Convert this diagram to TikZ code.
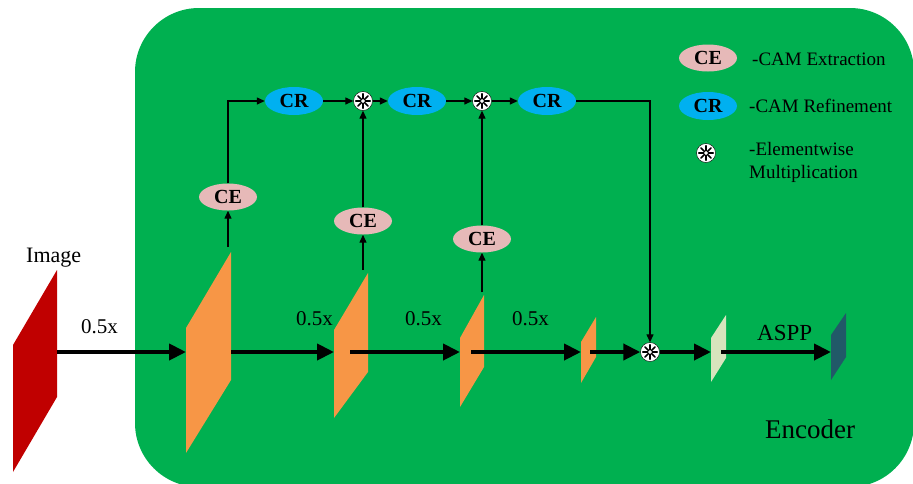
\documentclass[tikz,border=0pt]{standalone}
\usepackage{fontspec}
\setmainfont{Liberation Serif}
\usetikzlibrary{arrows.meta,shapes.geometric}
\definecolor{panel}{HTML}{00B050}
\definecolor{cepink}{HTML}{E6B9B8}
\definecolor{crblue}{HTML}{00B0F0}
\definecolor{imgred}{HTML}{C00000}
\definecolor{featorange}{HTML}{F79646}
\definecolor{featlight}{HTML}{D7E4BD}
\definecolor{featteal}{HTML}{215968}
\begin{document}
\begin{tikzpicture}[x=1pt,y=-1pt,
  thickarrow/.style={line width=4pt,-{Triangle[length=17pt,width=16pt]}},
  thinarrow/.style={line width=1.3pt,-{Triangle[length=8pt,width=7pt]}},
  blob/.style={ellipse,minimum width=58pt,minimum height=27pt,inner sep=0pt,
    font=\fontsize{20}{22}\selectfont\bfseries},
  cebox/.style={blob,fill=cepink},
  crbox/.style={blob,fill=crblue,minimum height=28pt},
  mult/.style={circle,fill=white,draw=black,line width=0.4pt,minimum size=19pt,inner sep=0pt,
    path picture={
      \foreach \a in {0,45,...,315}
        \draw[line width=1.6pt,line cap=round]
          (path picture bounding box.center) ++(\a:2.2pt) -- ++(\a:5pt);}},
  lbl/.style={anchor=base west,inner sep=0pt},
  legend/.style={lbl,font=\fontsize{19}{23}\selectfont}
]
\useasboundingbox (0,0) rectangle (913,483);

% encoder panel
\fill[panel,rounded corners=64pt] (135,8) rectangle (914,487);

% feature maps
\fill[imgred]     (13,345) -- (57,270) -- (57,397) -- (13,472) -- cycle;
\fill[featorange] (186,328) -- (231,252) -- (231,380) -- (186,453) -- cycle;
\fill[featorange] (334,330) -- (368,273) -- (368,372) -- (334,418) -- cycle;
\fill[featorange] (460,338) -- (484,295) -- (484,367) -- (460,407) -- cycle;
\fill[featorange] (581,342) -- (596,317) -- (596,357) -- (581,383) -- cycle;
\fill[featlight]  (711,338) -- (726,315) -- (726,358) -- (711,382) -- cycle;
\fill[featteal]   (831,335) -- (846,313) -- (846,357) -- (831,380) -- cycle;

% anchor points on the feature maps
\coordinate (imgout) at (57,352);
\coordinate (p1in) at (186,352);  \coordinate (p1out) at (231,352); \coordinate (p1top) at (228,247);
\coordinate (p2in) at (334,352);  \coordinate (p2out) at (350,352); \coordinate (p2top) at (363,270);
\coordinate (p3in) at (460,352);  \coordinate (p3out) at (471,352); \coordinate (p3top) at (482,292);
\coordinate (p4in) at (581,352);  \coordinate (p4out) at (590,352);
\coordinate (p5in) at (711,352);  \coordinate (p5out) at (721,352);
\coordinate (p6in) at (831,352);

% CAM branch
\node[cebox] (ce1) at (228,197) {CE};
\node[cebox] (ce2) at (363,221) {CE};
\node[cebox] (ce3) at (482,239) {CE};
\node[crbox] (cr1) at (294,101) {CR};
\node[crbox] (cr2) at (417,101) {CR};
\node[crbox] (cr3) at (547,101) {CR};
\node[mult] (m1) at (363,101) {};
\node[mult] (m2) at (482,101) {};
\node[mult] (m3) at (650,352) {};

\draw[thinarrow] (p1top) -- (ce1.south);
\draw[thinarrow] (p2top) -- (ce2.south);
\draw[thinarrow] (p3top) -- (ce3.south);
\draw[thinarrow] (ce1.north) |- (cr1.west);
\draw[thinarrow] (ce2.north) -- (m1.south);
\draw[thinarrow] (ce3.north) -- (m2.south);
\draw[thinarrow] (cr1.east) -- (m1.west);
\draw[thinarrow] (m1.east) -- (cr2.west);
\draw[thinarrow] (cr2.east) -- (m2.west);
\draw[thinarrow] (m2.east) -- (cr3.west);
\draw[thinarrow] (cr3.east) -| (m3.north);

% backbone
\draw[thickarrow] (imgout) -- (p1in);
\draw[thickarrow] (p1out) -- (p2in);
\draw[thickarrow] (p2out) -- (p3in);
\draw[thickarrow] (p3out) -- (p4in);
\draw[thickarrow] (p4out) -- (m3.west);
\draw[thickarrow] (m3.east) -- (p5in);
\draw[thickarrow] (p5out) -- (p6in);

% labels
\node[lbl,font=\fontsize{22}{24}\selectfont] (timg) at (26,262) {Image};
\node[lbl,font=\fontsize{21}{24}\selectfont] (s1) at (81,333) {0.5x};
\node[lbl,font=\fontsize{21}{24}\selectfont] (s2) at (296,325) {0.5x};
\node[lbl,font=\fontsize{21}{24}\selectfont] (s3) at (405,325) {0.5x};
\node[lbl,font=\fontsize{21}{24}\selectfont] (s4) at (512,325) {0.5x};
\node[lbl,font=\fontsize{23}{26}\selectfont] (taspp) at (757,340) {ASPP};
\node[lbl,font=\fontsize{27}{30}\selectfont] (tenc) at (765,438) {Encoder};

% legend
\node[cebox] (lce) at (708,58) {CE};
\node[crbox] (lcr) at (708,106) {CR};
\node[mult] (lm) at (706,153) {};
\node[legend] (tce) at (752,65) {-CAM Extraction};
\node[legend] (tcr) at (749,112) {-CAM Refinement};
\node[legend] (tm1) at (749,155) {-Elementwise};
\node[legend] (tm2) at (749,178) {Multiplication};
\end{tikzpicture}
\end{document}
